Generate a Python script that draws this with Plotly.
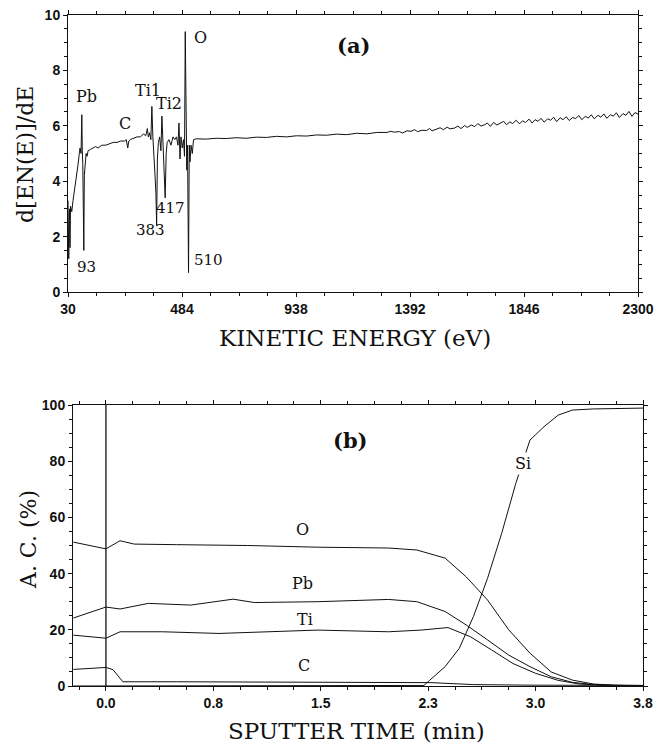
import plotly.graph_objects as go

# ---------------- Panel (a): Auger spectrum ----------------
energy_eV = [30, 33, 36, 38, 40, 45, 50, 55, 60, 65, 70, 75, 78, 82, 85, 87, 89, 91, 93, 95,
             98, 102, 106, 110, 120, 130, 140, 150, 165, 180, 195, 210, 225, 240, 255, 262,
             268, 272, 278, 290, 305, 318, 330, 340, 346, 350, 355, 360, 364, 368, 372, 376,
             380, 383, 386, 390, 395, 400, 404, 408, 412, 417, 421, 425, 432, 440, 448, 455,
             462, 468, 472, 476, 480, 485, 490, 494, 497, 500, 503, 506, 510, 513, 516, 520,
             525, 530, 540, 580, 620, 660, 700, 740, 780, 820, 860, 900, 940, 980, 1020, 1060,
             1100, 1140, 1180, 1220, 1260,
             1300, 1315, 1330, 1350, 1362, 1380, 1396, 1410, 1422, 1440, 1458, 1470, 1480, 1500,
             1512, 1525, 1540, 1552, 1570, 1583, 1595, 1610, 1620, 1636, 1650, 1662, 1675, 1690,
             1700, 1712, 1725, 1738, 1750, 1765, 1776, 1790, 1800, 1815, 1828, 1840, 1852, 1866,
             1878, 1890, 1902, 1914, 1926, 1940, 1952, 1964, 1976, 1990, 2002, 2014, 2026, 2040,
             2052, 2064, 2076, 2090, 2102, 2114, 2126, 2140, 2152, 2164, 2176, 2190, 2202, 2214,
             2226, 2240, 2252, 2264, 2276, 2288, 2300]
dNdE = [3.3, 1.2, 3.0, 1.6, 3.1, 2.9, 3.3, 3.6, 3.9, 4.3, 4.6, 5.0, 5.2, 5.0, 6.4, 5.1, 4.6, 3.0, 1.5, 4.2,
        4.7, 5.0, 4.9, 5.1, 5.15, 5.2, 5.25, 5.2, 5.3, 5.3, 5.35, 5.4, 5.4, 5.45, 5.45, 5.5,
        5.2, 5.45, 5.5, 5.55, 5.6, 5.6, 5.7, 5.65, 5.9, 5.6, 5.75, 5.5, 6.7, 5.6, 4.6, 4.3,
        3.6, 2.4, 4.8, 5.4, 5.6, 5.1, 6.35, 5.2, 4.7, 3.4, 5.0, 5.4, 5.5, 5.3, 5.6, 5.5,
        5.6, 5.3, 6.1, 4.8, 5.6, 5.2, 5.5, 4.9, 9.4, 5.0, 4.4, 5.3, 0.7, 5.3, 4.7, 5.3,
        5.0, 5.5, 5.53, 5.52, 5.55, 5.54, 5.57, 5.55, 5.59, 5.58, 5.62, 5.6, 5.64, 5.63, 5.67, 5.66,
        5.7, 5.68, 5.73, 5.71, 5.76,
        5.76, 5.80, 5.77, 5.79, 5.74, 5.82, 5.80, 5.86, 5.79, 5.84, 5.83, 5.90, 5.82, 5.88,
        5.93, 5.86, 5.95, 5.89, 5.92, 5.99, 5.90, 6.01, 5.94, 6.03, 5.97, 6.08, 5.99, 6.04,
        6.10, 5.98, 6.12, 6.03, 6.09, 6.16, 6.04, 6.14, 6.08, 6.20, 6.07, 6.18, 6.12, 6.24,
        6.10, 6.22, 6.16, 6.27, 6.13, 6.25, 6.20, 6.31, 6.15, 6.29, 6.22, 6.33, 6.19, 6.30,
        6.26, 6.37, 6.22, 6.34, 6.28, 6.40, 6.25, 6.38, 6.31, 6.43, 6.27, 6.40, 6.35, 6.47,
        6.30, 6.44, 6.38, 6.52, 6.34, 6.48, 6.42]
x_ticks_a = [30, 484, 938, 1392, 1846, 2300]
y_ticks_a = [0, 2, 4, 6, 8, 10]

# ---------------- Panel (b): depth profile ----------------
time_O = [-0.23, 0.0, 0.1, 0.2, 0.5, 1.0, 1.5, 2.0, 2.2, 2.4, 2.55, 2.7, 2.85, 3.0, 3.15, 3.3, 3.45, 3.6, 3.8]
conc_O = [51.2, 48.8, 51.7, 50.5, 50.3, 50.0, 49.4, 49.1, 48.4, 45.5, 38.8, 30.6, 20.0, 11.7, 5.0, 2.1, 0.7, 0.3, 0.2]
time_Pb = [-0.23, 0.0, 0.1, 0.3, 0.6, 0.9, 1.05, 1.5, 2.0, 2.2, 2.4, 2.55, 2.7, 2.85, 3.0, 3.15, 3.3, 3.45, 3.6, 3.8]
conc_Pb = [24.2, 28.1, 27.4, 29.4, 28.8, 30.9, 29.7, 30.0, 30.8, 30.0, 26.5, 21.7, 16.4, 11.0, 6.9, 3.3, 1.3, 0.5, 0.2, 0.1]
time_Ti = [-0.23, 0.0, 0.1, 0.4, 0.8, 1.2, 1.5, 2.0, 2.23, 2.42, 2.58, 2.73, 2.88, 3.04, 3.2, 3.35, 3.5, 3.8]
conc_Ti = [18.1, 17.0, 19.3, 19.3, 18.7, 19.3, 19.9, 19.3, 19.9, 20.8, 17.5, 12.8, 8.0, 4.5, 2.0, 0.7, 0.3, 0.1]
time_C = [-0.23, 0.0, 0.05, 0.12, 0.5, 1.5, 2.3, 2.6, 3.0, 3.8]
conc_C = [5.9, 6.6, 5.8, 1.5, 1.5, 1.4, 1.2, 0.5, 0.3, 0.2]
time_Si = [-0.23, 0.0, 1.0, 2.0, 2.25, 2.29, 2.4, 2.5, 2.6, 2.7, 2.8, 2.9, 3.0, 3.1, 3.2, 3.3, 3.45, 3.8]
conc_Si = [0.0, 0.0, 0.0, 0.0, 0.2, 2.0, 6.9, 13.4, 24.7, 38.3, 54.3, 72.1, 87.5, 92.3, 96.4, 98.2, 98.6, 98.9]
x_ticks_b = [0.0, 0.76, 1.52, 2.28, 3.04, 3.8]
x_ticktext_b = ["0.0", "0.8", "1.5", "2.3", "3.0", "3.8"]
y_ticks_b = [0, 20, 40, 60, 80, 100]

W, H = 658, 748
SERIF = "DejaVu Serif"
SANS = "Liberation Sans"
INK = "#111111"

fig = go.Figure()
fig.add_trace(go.Scatter(x=energy_eV, y=dNdE, mode="lines",
                         line=dict(color=INK, width=1), xaxis="x", yaxis="y", showlegend=False))
for t, c in [(time_O, conc_O), (time_Pb, conc_Pb), (time_Ti, conc_Ti), (time_C, conc_C), (time_Si, conc_Si)]:
    fig.add_trace(go.Scatter(x=t, y=c, mode="lines", line=dict(color=INK, width=1),
                             xaxis="x2", yaxis="y2", showlegend=False))

def px_x(p):
    return p / W

def px_y(p):
    return 1 - p / H

axis_common = dict(showline=True, linecolor=INK, linewidth=1, mirror="allticks", automargin=False,
                   ticks="outside", ticklen=4, tickwidth=1, tickcolor=INK, showgrid=False, zeroline=False,
                   tickfont=dict(family=SANS, size=14, color=INK, weight="bold"))
minor_common = dict(ticks="outside", ticklen=3, tickwidth=1, tickcolor=INK, showgrid=False)

fig.update_layout(
    template="none",
    width=W, height=H, margin=dict(l=0, r=0, t=0, b=0, pad=0), autosize=False,
    paper_bgcolor="white", plot_bgcolor="white", showlegend=False,
    xaxis=dict(domain=[px_x(68), px_x(638)], range=[30, 2300], tickmode="array", tickvals=x_ticks_a,
               anchor="y", minor=dict(dtick=113.5, tick0=30, **minor_common), **axis_common),
    yaxis=dict(domain=[px_y(292), px_y(15)], range=[0, 10], tickmode="array", tickvals=y_ticks_a, anchor="x",
               minor=dict(dtick=0.5, tick0=0, **minor_common), **axis_common),
    xaxis2=dict(domain=[px_x(73), px_x(643)], range=[-0.233, 3.8], tickmode="array", tickvals=x_ticks_b,
                ticktext=x_ticktext_b, anchor="y2",
                minor=dict(dtick=0.19, tick0=0, **minor_common), **axis_common),
    yaxis2=dict(domain=[px_y(686), px_y(405)], range=[0, 100], tickmode="array", tickvals=y_ticks_b, anchor="x2",
                minor=dict(dtick=5, tick0=0, **minor_common), **axis_common),
)

# vertical line at t = 0 in panel (b)
fig.add_shape(type="line", xref="x2", yref="y2", x0=0, x1=0, y0=0, y1=100,
              line=dict(color=INK, width=1.3))

ann = []
def txt(x, y, s, size=15, bold=False, xref="paper", yref="paper", xanchor="center", **kw):
    ann.append(dict(x=x, y=y, xref=xref, yref=yref, text=s, showarrow=False, xanchor=xanchor,
                    yanchor="middle", font=dict(family=SERIF, size=size, color=INK,
                                                weight="bold" if bold else "normal"), **kw))

# axis titles
txt(px_x(355), px_y(338), "KINETIC ENERGY (eV)", size=23)
txt(px_x(357), px_y(731), "SPUTTER TIME (min)", size=23)
txt(px_x(25), px_y(155), "d[EN(E)]/dE", size=22, textangle=-90)
txt(px_x(28), px_y(540), "A. C. (%)", size=22, textangle=-90)

# panel labels
txt(px_x(353), px_y(45), "(a)", size=21, bold=True)
txt(px_x(350), px_y(440), "(b)", size=21, bold=True)

# panel (a) peak labels
txt(px_x(86), px_y(97), "Pb", size=16)
txt(px_x(125), px_y(123), "C", size=16)
txt(px_x(148), px_y(90), "Ti1", size=16)
txt(px_x(169), px_y(103), "Ti2", size=16)
txt(px_x(201), px_y(38), "O", size=16)
txt(px_x(86), px_y(267), "93", size=15)
txt(px_x(150), px_y(230), "383", size=15)
txt(px_x(170), px_y(208), "417", size=15)
txt(px_x(208), px_y(260), "510", size=15)

# panel (b) curve labels
txt(px_x(302), px_y(529), "O", size=16)
txt(px_x(302), px_y(583), "Pb", size=16)
txt(px_x(305), px_y(619), "Ti", size=16)
txt(px_x(304), px_y(665), "C", size=16)
txt(px_x(523), px_y(463), "Si", size=16, bgcolor="white")

fig.update_layout(annotations=ann)
fig.write_html("out.html", config={"displayModeBar": False},
               post_script="document.body.style.margin='0px';document.body.style.overflow='hidden';")
